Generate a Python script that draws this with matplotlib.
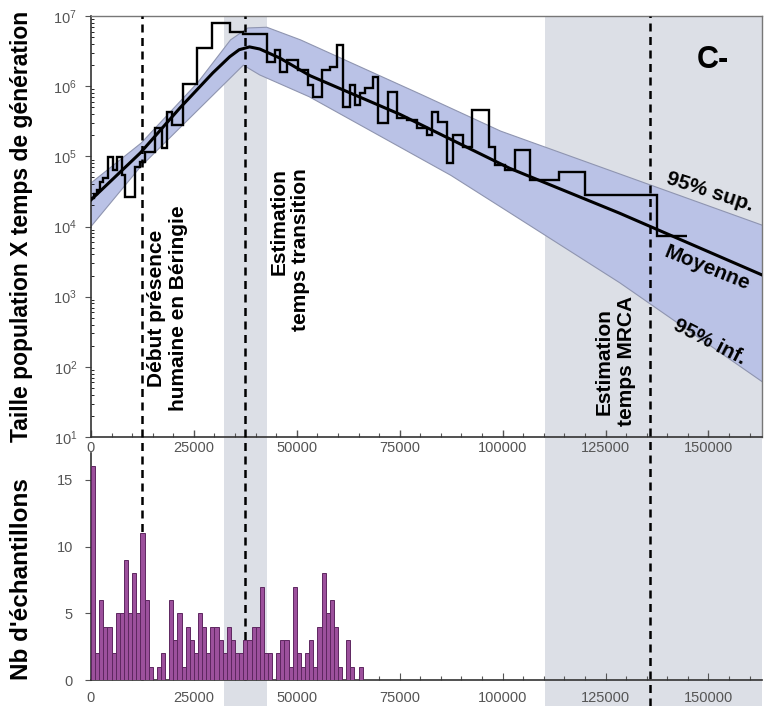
import numpy as np
import matplotlib
matplotlib.use('Agg')
import matplotlib.pyplot as plt
import matplotlib.transforms as mtransforms
from matplotlib.patches import Rectangle
from matplotlib.ticker import LogLocator, MultipleLocator, NullFormatter

plt.rcParams['font.family'] = ['Liberation Sans', 'DejaVu Sans']

# skyline steps (years, population x generation time)
step_edges = [0, 700, 1500, 2200, 2900, 4100, 5300, 6300, 7500, 8300, 10700, 11900,
              13100, 15500, 17200, 18400, 19700, 22300, 25700, 29400, 33700, 36900,
              42700, 44700, 45900, 47600, 50200, 52700, 53900, 56100, 58000, 59700,
              61200, 62900, 64100, 65300, 66500, 68400, 69700, 72100, 74300, 76700,
              79100, 81600, 82800, 84200, 86400, 87900, 90300, 92500, 96800, 98100,
              100500, 102900, 106600, 113800, 119900, 137600, 144700]
step_vals = [2.55e4, 2.9e4, 3.3e4, 4.3e4, 4.9e4, 9.8e4, 6.4e4, 9.8e4, 5.4e4, 2.6e4,
             7.0e4, 8.3e4, 1.15e5, 2.5e5, 1.3e5, 4.3e5, 2.8e5, 1.07e6, 3.5e6, 7.9e6,
             5.9e6, 5.5e6, 2.2e6, 3.3e6, 1.6e6, 2.4e6, 1.7e6, 1.04e6, 7.0e5, 1.7e6,
             1.9e6, 3.9e6, 5.0e5, 1.04e6, 5.4e5, 8.0e5, 9.4e5, 1.35e6, 3.0e5, 8.3e5,
             3.5e5, 3.3e5, 2.5e5, 2.0e5, 4.3e5, 3.1e5, 8.0e4, 2.0e5, 1.36e5, 4.6e5,
             1.36e5, 7.5e4, 6.4e4, 1.23e5, 4.6e4, 6.0e4, 2.8e4, 7.3e3]

# mean curve and 95% band (log10 values)
mean_years = [0, 12000, 21600, 29600, 33700, 36000, 38500, 41000, 45900, 53200, 75000,
              101700, 128400, 163000]
mean_log = [4.38, 5.05, 5.69, 6.19, 6.42, 6.52, 6.56, 6.53, 6.40, 6.15, 5.60,
            4.83, 4.19, 3.31]

upper_years = [0, 12200, 25900, 33900, 38100, 42700, 50900, 79900, 99500, 128400, 163000]
upper_log = [4.62, 5.19, 6.05, 6.66, 6.83, 6.84, 6.66, 5.89, 5.36, 4.75, 4.02]

lower_years = [0, 12000, 37000, 41000, 53000, 87400, 101900, 128400, 163000]
lower_log = [4.00, 4.85, 6.30, 6.16, 5.85, 4.73, 4.19, 3.20, 1.79]

# samples per 1000-year bin
sample_counts = [16, 2, 6, 4, 4, 2, 5, 5, 9, 5, 8, 5, 11, 6, 1, 0, 1, 2, 0, 6,
                 3, 5, 1, 4, 3, 2, 5, 4, 2, 4, 4, 3, 2, 4, 3, 2, 2, 3, 3, 4,
                 4, 7, 2, 2, 0, 2, 3, 3, 1, 7, 2, 1, 2, 3, 1, 4, 8, 5, 6, 4,
                 1, 0, 3, 1, 0, 1]
bin_width = 1000

# events
beringia = 12400
transition = 37400
transition_band = (32300, 42700)
mrca = 135700
mrca_band = (110400, 163000)

xticks = [0, 25000, 50000, 75000, 100000, 125000, 150000]

fig = plt.figure(figsize=(7.64, 7.06), dpi=100)
ax1 = fig.add_axes([0.1191, 0.381, 0.8783, 0.5963])
ax2 = fig.add_axes([0.1191, 0.0368, 0.8783, 0.3215])
for ax in (ax1, ax2):
    ax.set_facecolor('none')

# grey bands and dashed lines running through both panels
trans = mtransforms.blended_transform_factory(ax1.transData, fig.transFigure)
top_y = 1 - 16 / 706
for lo, hi in (transition_band, mrca_band):
    ax1.add_patch(Rectangle((lo, 0), hi - lo, top_y, transform=trans,
                            facecolor='#dcdfe6', edgecolor='none', zorder=0,
                            clip_on=False))
for xv, ybot in ((beringia, 0.0368), (transition, 0.0368), (mrca, 0.0)):
    ax1.plot([xv, xv], [ybot, top_y], transform=trans, color='black', lw=1.8,
             ls=(0, (3.2, 2.2)), clip_on=False, zorder=5)

# top panel
ax1.set_yscale('log')
upper = 10 ** np.array(upper_log)
lower = 10 ** np.array(lower_log)
ax1.fill(upper_years + lower_years[::-1], list(upper) + list(lower[::-1]),
         facecolor='#bac2e6', edgecolor='none', zorder=1)
ax1.plot(upper_years, upper, color='#8f95b0', lw=0.8, zorder=2)
ax1.plot(lower_years, lower, color='#8f95b0', lw=0.8, zorder=2)
ax1.stairs(step_vals, step_edges, baseline=None, color='black', lw=1.7, zorder=3)
ax1.plot(mean_years, 10 ** np.array(mean_log), color='black', lw=2.2, zorder=4)

ax1.set_xlim(0, 163000)
ax1.set_ylim(10, 1e7)
ax1.set_xticks(xticks)
ax1.xaxis.set_minor_locator(MultipleLocator(5000))
ax1.yaxis.set_major_locator(LogLocator(base=10, numticks=10))
ax1.yaxis.set_minor_locator(LogLocator(base=10, subs=np.arange(2, 10), numticks=10))
ax1.yaxis.set_minor_formatter(NullFormatter())
ax1.tick_params(axis='x', which='both', direction='in', colors='#555555',
                labelsize=10.5, pad=3)
ax1.tick_params(axis='x', which='major', length=5, width=1)
ax1.tick_params(axis='x', which='minor', length=3, width=0.8)
ax1.tick_params(axis='y', which='major', direction='out', length=4, colors='#555555',
                labelsize=10.5, pad=6)
ax1.tick_params(axis='y', which='minor', direction='in', length=2.5)
for s in ('top', 'right'):
    ax1.spines[s].set_color('#777777')
    ax1.spines[s].set_linewidth(1)
for s in ('left', 'bottom'):
    ax1.spines[s].set_color('#333333')
    ax1.spines[s].set_linewidth(1.2)

bold = dict(fontsize=15, fontweight='bold', color='black', zorder=6)
ax1.text(18700, 690, 'Début présence\nhumaine en Béringie', rotation=90,
         ha='center', va='center', multialignment='center', **bold)
ax1.text(48300, 4700, 'Estimation\ntemps transition', rotation=90,
         ha='center', va='center', multialignment='right', **bold)
ax1.text(127400, 120, 'Estimation\ntemps MRCA', rotation=90,
         ha='center', va='center', multialignment='center', **bold)
ax1.text(150300, 10 ** 4.49, '95% sup.', rotation=-18, ha='center', va='center', **bold)
ax1.text(149800, 10 ** 3.41, 'Moyenne', rotation=-22, ha='center', va='center', **bold)
ax1.text(150300, 10 ** 2.35, '95% inf.', rotation=-27, ha='center', va='center', **bold)
ax1.text(151000, 10 ** 6.37, 'C-', ha='center', va='center', fontsize=22,
         fontweight='bold', zorder=6)

# bottom panel
bin_left = np.arange(len(sample_counts)) * bin_width
ax2.bar(bin_left, sample_counts, width=bin_width, align='edge',
        color='#9c509c', edgecolor='#5e2760', lw=0.7, zorder=3)
ax2.set_xlim(0, 163000)
ax2.set_ylim(0, 17)
ax2.set_xticks(xticks)
ax2.set_yticks([0, 5, 10, 15])
ax2.xaxis.set_minor_locator(MultipleLocator(5000))
ax2.tick_params(axis='x', which='both', direction='in', colors='#555555',
                labelsize=10.5, pad=8)
ax2.tick_params(axis='x', which='major', length=5)
ax2.tick_params(axis='x', which='minor', length=3, width=0.8)
ax2.tick_params(axis='y', direction='out', length=4, colors='#555555', labelsize=10.5,
                pad=9)
ax2.spines['top'].set_visible(False)
ax2.spines['right'].set_visible(False)
for s in ('left', 'bottom'):
    ax2.spines[s].set_color('#333333')
    ax2.spines[s].set_linewidth(1.2)

# y labels placed by hand, as in the original figure
fig.text(22 / 764, 1 - 226 / 706, 'Taille population X temps de génération',
         rotation=90, ha='center', va='center', fontsize=16.5, fontweight='bold')
fig.text(22 / 764, 1 - 579 / 706, "Nb d'échantillons",
         rotation=90, ha='center', va='center', fontsize=17.5, fontweight='bold')

fig.savefig('out.png', dpi=100)
